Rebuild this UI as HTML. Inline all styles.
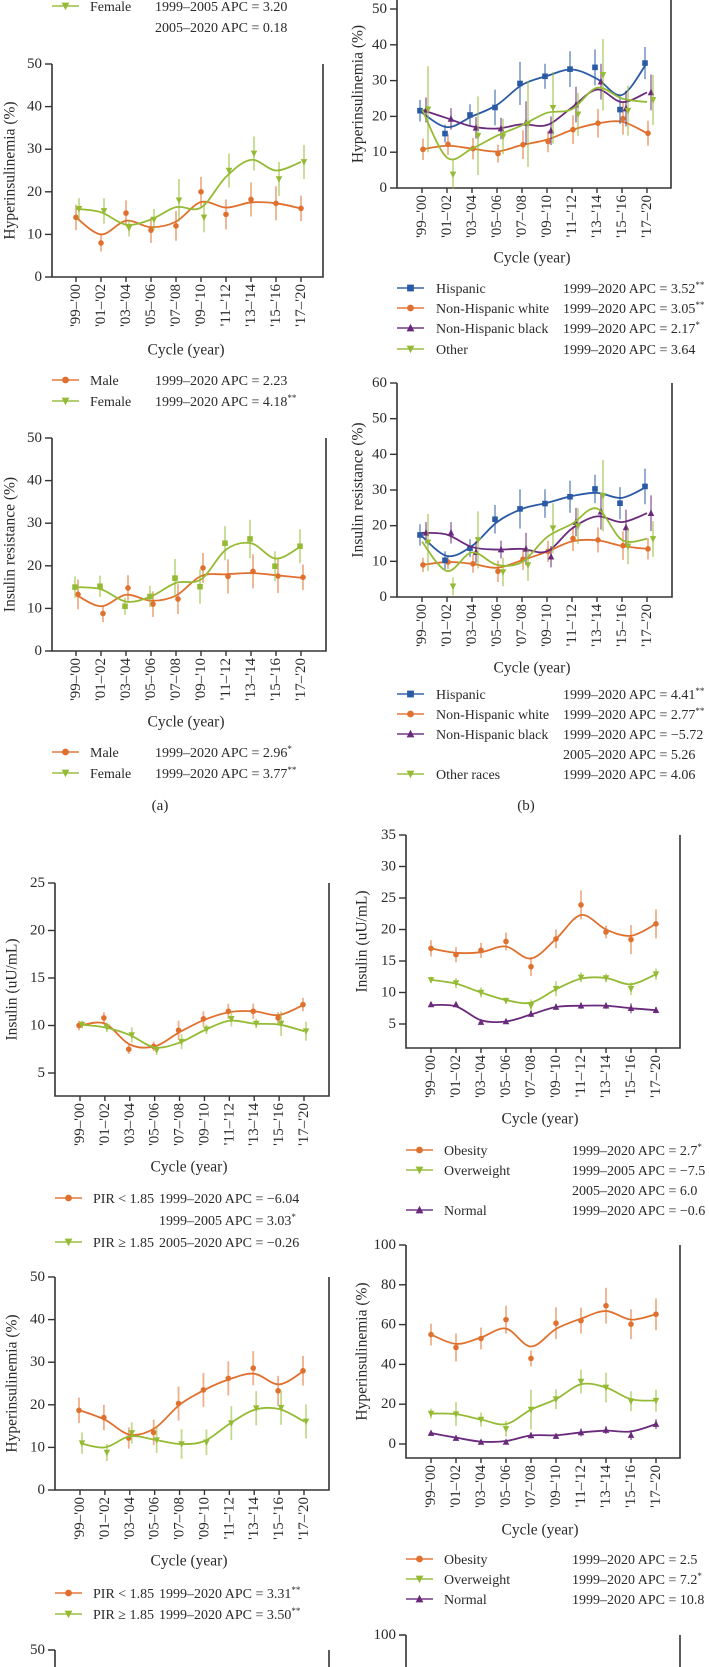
<!DOCTYPE html>
<html><head><meta charset="utf-8"><style>
html,body{margin:0;padding:0;background:#fff}
svg{display:block;font-family:"Liberation Serif",serif}
</style></head><body>
<svg id="fig" width="709" height="1667" viewBox="0 0 709 1667" xmlns="http://www.w3.org/2000/svg"></svg>
<script>
const cycles = ["'99–'00","'01–'02","'03–'04","'05–'06","'07–'08","'09–'10","'11–'12","'13–'14","'15–'16","'17–'20"];
const ticks0to50 = [0,10,20,30,40,50];
const ticks0to60 = [0,10,20,30,40,50,60];
const ticks5to25 = [5,10,15,20,25];
const ticks5to35 = [5,10,15,20,25,30,35];
const ticks0to100 = [0,20,40,60,80,100];

// A1 hyperinsulinemia by sex
const a1MaleVals = [14,8,15,11,12,20,14.7,18.2,17.3,16.1];
const a1MaleFit = [14,10,13.2,11.7,13,17.6,16.3,17.5,17.3,16.1];
const a1MaleErr = [3,2,3,3,3.5,3.5,3.5,4,4,3];
const a1FemaleVals = [16,15.5,11.5,13.5,18,14,25,29,23,27];
const a1FemaleFit = [16,15.2,12.3,13.5,16.4,16.3,23.5,27.5,25,27];
const a1FemaleErr = [2.5,3,2,2.5,5,3.5,4,4,4,4];
// A2 insulin resistance by sex
const a2MaleVals = [13.3,8.8,14.8,11,12.2,19.5,17.5,18.7,17.6,17.3];
const a2MaleFit = [13.2,10.5,13.2,11.8,13,17.6,18,18.3,17.8,17.2];
const a2MaleErr = [3.5,2,3,3,3.5,3.5,4,4,4,3];
const a2FemaleVals = [15,15.2,10.5,12.8,17.1,15.1,25.3,26.3,19.9,24.6];
const a2FemaleFit = [15,14.5,11.6,12.8,16,16.8,23.8,25.3,21.7,24.6];
const a2FemaleErr = [2.5,2.5,2,2.5,4.5,4,4,4.5,3.5,4];
// B1 hyperinsulinemia by race
const b1HispVals = [21.6,15.2,20.4,22.5,29.2,31.2,33.2,33.7,21.9,34.9];
const b1HispFit = [21,17,20,23.2,28.8,31.3,33.1,30.5,26,35];
const b1HispErr = [3,2.5,3,5,6,3.5,5,5,4,4.5];
const b1WhiteVals = [10.8,12.2,11,9.6,12.1,13,16.3,18.1,19.4,15.3];
const b1WhiteFit = [10.8,11.8,11,10.2,12,13.5,16.2,18,18.5,15.3];
const b1WhiteErr = [3,3,3,2.5,4,3,4,4,4.5,3.5];
const b1BlackVals = [21.8,19.3,16.8,16.6,18.2,16,23.3,29.7,22.2,26.7];
const b1BlackFit = [21.8,19.5,17.2,16.6,17.8,17.6,22.5,27.5,24,26.7];
const b1BlackErr = [3.5,3,3,3,6,4,5,5,5,5];
const b1OtherVals = [22,3.8,14.6,14.4,17.9,22.4,20.6,31.6,21.6,24.6];
const b1OtherFit = [22,8.5,11,14.6,17.5,21,22,28,25,24];
const b1OtherErr = [12,4,11,5,12,10,6,10,7,7];
// B2 insulin resistance by race
const b2HispVals = [17.4,10.3,13.7,21.8,24.7,26.2,28.1,30.3,26.3,31];
const b2HispFit = [17,11.5,14.3,21,24.7,26.4,28.3,29.2,27.8,31];
const b2HispErr = [3,2.5,2.5,4,5.5,4,4.5,4,4.5,5];
const b2WhiteVals = [9,9.8,9.3,7.2,10.6,12.8,16.4,16,14.4,13.5];
const b2WhiteFit = [9,9.8,9.3,8.2,10.3,12.7,15.6,15.9,14.3,13.5];
const b2WhiteErr = [2,2,2.5,3,3,3,3.5,3.5,4,3];
const b2BlackVals = [18,18,12.6,13.3,13.5,11.3,21,23.9,19.5,23.5];
const b2BlackFit = [18,17.5,14,13.3,13.5,12.8,19.2,22.6,21,23.5];
const b2BlackErr = [3,3,3,2.5,4.5,3,4,5,5,5];
const b2OtherVals = [15.3,3,16,7,9,19.3,19.9,28.4,14.2,16.3];
const b2OtherFit = [15.5,7.3,12.5,9,9.8,16.8,20.5,24.8,16,16.3];
const b2OtherErr = [8,2.5,8,4,4.5,7,5,10,5,5];
// C1 insulin by PIR
const c1LowVals = [10,10.8,7.5,7.8,9.5,10.7,11.5,11.5,10.8,12.2];
const c1LowFit = [10,10.2,8,7.8,9.3,10.6,11.4,11.5,11.1,12.2];
const c1LowErr = [0.5,0.6,0.5,0.5,1,0.8,0.8,0.8,0.6,0.7];
const c1HighVals = [10.1,9.8,9,7.4,8.3,9.6,10.7,10.2,10.2,9.4];
const c1HighFit = [10.1,9.8,9,7.7,8.2,9.5,10.5,10.2,10.1,9.4];
const c1HighErr = [0.4,0.5,0.8,0.5,0.8,0.5,0.8,0.5,1.3,1];
// C2 hyperinsulinemia by PIR
const c2LowVals = [18.7,17,12.2,13.5,20.3,23.5,26.2,28.6,23.3,28];
const c2LowFit = [18.7,16.5,13,14.5,20,23.5,26,27.3,24.8,28];
const c2LowErr = [3,3,2.5,3,4,4,4,4,3.5,3.5];
const c2HighVals = [11,8.8,13.4,11.7,10.8,11.2,15.7,19.2,19.3,16.1];
const c2HighFit = [11,10,12.6,11.8,10.8,11.5,15.5,18.8,19,16.1];
const c2HighErr = [2.5,2,2.5,3,3.5,3,4,4,4,4];
// D1 insulin by BMI
const d1ObVals = [17,16,16.7,18.1,14.1,18.5,23.9,19.6,18.4,20.9];
const d1ObFit = [17,16.3,16.4,17.3,15.4,18.5,22.3,20,19,20.9];
const d1ObErr = [1.3,1.2,1.2,1.4,1.5,1.5,2.3,1,2.3,2.3];
const d1OwVals = [12,11.5,10,8.7,7.9,10.6,12.4,12.3,10.6,12.9];
const d1OwFit = [12,11.4,10,8.8,8.4,10.5,12.2,12.3,11.3,12.9];
const d1OwErr = [0.5,0.8,0.8,0.5,1,1.2,0.8,0.7,1,0.9];
const d1NoVals = [8.1,8.1,5.3,5.4,6.6,7.7,7.9,7.9,7.5,7.2];
const d1NoFit = [8,7.8,5.6,5.4,6.5,7.7,7.9,7.9,7.5,7.2];
const d1NoErr = [0.4,0.4,0.4,0.4,0.5,0.5,0.5,0.5,0.8,0.5];
// D2 hyperinsulinemia by BMI
const d2ObVals = [55,48.5,53,62.5,43,60.7,62,69.5,60.2,65.2];
const d2ObFit = [55,50.3,53.5,58,49,57.8,63,66.8,62.5,65.2];
const d2ObErr = [5.5,7,5.5,7,4,8,6.5,9,7.5,8];
const d2OwVals = [15.3,15,12.3,7.6,17.3,22.5,31.4,28.4,21.5,21.8];
const d2OwFit = [15.3,15,12.3,10,17.3,22.5,30,28.4,22.5,21.8];
const d2OwErr = [2.5,6,3.5,4,10,5,6,7.5,5,5.5];
const d2NoVals = [5.5,3,1,1,4.3,4,5.8,7,4.5,10];
const d2NoFit = [5.5,3.2,1.2,1.5,4.3,4.4,5.8,6.7,6.3,10];
const d2NoErr = [1,1,0.8,1,1.5,1,2,2,2.5,2.5];

const NS = "http://www.w3.org/2000/svg";
const fig = document.getElementById("fig");
const OR = "#e0702e", GR = "#95bb35", BL = "#2a5aa5", PU = "#6a2a7c";
function mk(tag, attrs, parent) {
  const e = document.createElementNS(NS, tag);
  for (const k in attrs) e.setAttribute(k, attrs[k]);
  (parent || fig).appendChild(e);
  return e;
}
function marker(g, type, x, y, color, s) {
  s = s || 3.3;
  let e;
  if (type === "circle") e = mk("circle", {cx:x, cy:y, r:s, fill:color}, g);
  else if (type === "square") e = mk("rect", {x:x-s, y:y-s, width:2*s, height:2*s, fill:color}, g);
  else if (type === "up") e = mk("polygon", {points:`${x},${y-s-0.8} ${x-s-0.5},${y+s} ${x+s+0.5},${y+s}`, fill:color}, g);
  else e = mk("polygon", {points:`${x},${y+s+0.8} ${x-s-0.5},${y-s} ${x+s+0.5},${y-s}`, fill:color}, g);
  return e;
}
function smoothPath(pts) {
  let d = `M${pts[0][0]},${pts[0][1]}`;
  for (let i = 0; i < pts.length - 1; i++) {
    const p0 = pts[Math.max(0,i-1)], p1 = pts[i], p2 = pts[i+1], p3 = pts[Math.min(pts.length-1,i+2)];
    const c1x = p1[0] + (p2[0]-p0[0])/6, c1y = p1[1] + (p2[1]-p0[1])/6;
    const c2x = p2[0] - (p3[0]-p1[0])/6, c2y = p2[1] - (p3[1]-p1[1])/6;
    d += ` C${c1x},${c1y} ${c2x},${c2y} ${p2[0]},${p2[1]}`;
  }
  return d;
}
function text(parent, x, y, s, opts) {
  opts = opts || {};
  const t = mk("text", {x:x, y:y, "font-size":opts.size||14, fill:"#2a2a2a", "text-anchor":opts.anchor||"start"}, parent);
  if (opts.rot) t.setAttribute("transform", `rotate(-90 ${x} ${y})`);
  if (opts.base) t.setAttribute("dominant-baseline", opts.base);
  const parts = s.split(/(\*+)$/);
  t.appendChild(document.createTextNode(parts[0]));
  if (parts[1]) { const ts = mk("tspan", {dy:-5, "font-size":9}, t); ts.textContent = parts[1]; }
  return t;
}

function chart(c) {
  const g = mk("g", {});
  
  
  const yS = v => c.yp[0] + (v - c.yv[0]) * (c.yp[1] - c.yp[0]) / (c.yv[1] - c.yv[0]);
  const xS = i => c.c0 + i * (c.c1 - c.c0) / (cycles.length - 1);
  const ax = mk("path", {d:`M${c.ax},${c.top} V${c.base} H${c.rx} V${c.top}`, fill:"none", stroke:"#333", "stroke-width":1.6}, g);
  
  
  c.ticks.forEach(v => {
    const y = yS(v);
    mk("line", {x1:c.ax-7, x2:c.ax, y1:y, y2:y, stroke:"#333", "stroke-width":1.4}, g);
    const t = text(g, c.ax-10, y, String(v), {anchor:"end", base:"central", size:15});
    
    
  });
  cycles.forEach((lab, i) => {
    const x = xS(i);
    mk("line", {x1:x, x2:x, y1:c.base, y2:c.base+5, stroke:"#333", "stroke-width":1.4}, g);
    const t = text(g, x, c.base+7, lab, {anchor:"end", base:"central", size:15, rot:true});
    
    
  });
  const yt = text(g, c.tx, (c.top + c.base)/2, c.title, {anchor:"middle", base:"central", size:15.5, rot:true});
  
  
  const xt = text(g, c.cx, c.cy, "Cycle (year)", {anchor:"middle", base:"central", size:15.5});
  
  
  c.series.forEach(s => {
    const sg = mk("g", {}, g);
    
    
    s.vals.forEach((v, i) => {
      const x = xS(i) + s.dx;
      const eb = mk("line", {x1:x, x2:x, y1:yS(v - s.err[i]), y2:yS(v + s.err[i]), stroke:s.color, "stroke-width":1.8, opacity:0.55}, sg);
      
      
    });
    const line = mk("path", {d:smoothPath(s.fit.map((v,i)=>[xS(i), yS(v)])), fill:"none", stroke:s.color, "stroke-width":1.8}, sg);
    
    
    s.vals.forEach((v, i) => {
      const m = marker(sg, s.marker, xS(i) + s.dx, yS(v), s.color, 2.8);
      
      
    });
  });
}

function legend(rows, lx, labX, valX) {
  const g = mk("g", {});
  
  
  rows.forEach(r => {
    const y = r[0];
    if (r[1]) {
      mk("line", {x1:lx, x2:lx+27, y1:y, y2:y, stroke:r[4], "stroke-width":1.8, opacity:0.8}, g);
      marker(g, r[5], lx+13.5, y, r[4], 3.4);
      const l = text(g, labX, y+5, r[1], {size:14});
      
      
    }
    const v = text(g, valX, y+5, r[2], {size:14});
    
    
  });
}

// ---- Panel (a)
legend([[6,"Female","1999–2005 APC = 3.20",0,GR,"down"],[27,"","2005–2020 APC = 0.18"]],52,90,155);
chart({name:"a1-hyperinsulinemia-sex", ax:52, rx:323, c0:76, c1:301, yv:[0,50], yp:[277,64], base:277, top:64, ticks:ticks0to50, title:"Hyperinsulinemia (%)", tx:10, cx:186, cy:350,
  series:[{name:"male",vals:a1MaleVals,fit:a1MaleFit,err:a1MaleErr,color:OR,marker:"circle",dx:0},
          {name:"female",vals:a1FemaleVals,fit:a1FemaleFit,err:a1FemaleErr,color:GR,marker:"down",dx:3}]});
legend([[380,"Male","1999–2020 APC = 2.23",0,OR,"circle"],[401,"Female","1999–2020 APC = 4.18**",0,GR,"down"]],52,90,155);
chart({name:"a2-insulin-resistance-sex", ax:52, rx:326, c0:76, c1:301, yv:[0,50], yp:[651,438], base:651, top:438, ticks:ticks0to50, title:"Insulin resistance (%)", tx:10, cx:186, cy:722,
  series:[{name:"male",vals:a2MaleVals,fit:a2MaleFit,err:a2MaleErr,color:OR,marker:"circle",dx:2},
          {name:"female",vals:a2FemaleVals,fit:a2FemaleFit,err:a2FemaleErr,color:GR,marker:"square",dx:-1}]});
legend([[752,"Male","1999–2020 APC = 2.96*",0,OR,"circle"],[773,"Female","1999–2020 APC = 3.77**",0,GR,"down"]],52,90,155);
text(fig,160,810,"(a)",{anchor:"middle",size:15});

// ---- Panel (b)
chart({name:"b1-hyperinsulinemia-race", ax:397, rx:671, c0:422, c1:647, yv:[0,50], yp:[188,9], base:188, top:0, ticks:ticks0to50, title:"Hyperinsulinemia (%)", tx:358, cx:532, cy:258,
  series:[{name:"non-hispanic-white",vals:b1WhiteVals,fit:b1WhiteFit,err:b1WhiteErr,color:OR,marker:"circle",dx:1},
          {name:"hispanic",vals:b1HispVals,fit:b1HispFit,err:b1HispErr,color:BL,marker:"square",dx:-2},
          {name:"non-hispanic-black",vals:b1BlackVals,fit:b1BlackFit,err:b1BlackErr,color:PU,marker:"up",dx:4},
          {name:"other",vals:b1OtherVals,fit:b1OtherFit,err:b1OtherErr,color:GR,marker:"down",dx:6}]});
legend([[288,"Hispanic","1999–2020 APC = 3.52**",0,BL,"square"],[308,"Non-Hispanic white","1999–2020 APC = 3.05**",0,OR,"circle"],
        [328,"Non-Hispanic black","1999–2020 APC = 2.17*",0,PU,"up"],[349,"Other","1999–2020 APC = 3.64",0,GR,"down"]],397,436,563);
chart({name:"b2-insulin-resistance-race", ax:397, rx:672, c0:422, c1:647, yv:[0,60], yp:[597,383], base:597, top:383, ticks:ticks0to60, title:"Insulin resistance (%)", tx:358, cx:532, cy:668,
  series:[{name:"non-hispanic-white",vals:b2WhiteVals,fit:b2WhiteFit,err:b2WhiteErr,color:OR,marker:"circle",dx:1},
          {name:"hispanic",vals:b2HispVals,fit:b2HispFit,err:b2HispErr,color:BL,marker:"square",dx:-2},
          {name:"non-hispanic-black",vals:b2BlackVals,fit:b2BlackFit,err:b2BlackErr,color:PU,marker:"up",dx:4},
          {name:"other",vals:b2OtherVals,fit:b2OtherFit,err:b2OtherErr,color:GR,marker:"down",dx:6}]});
legend([[694,"Hispanic","1999–2020 APC = 4.41**",0,BL,"square"],[714,"Non-Hispanic white","1999–2020 APC = 2.77**",0,OR,"circle"],
        [734,"Non-Hispanic black","1999–2020 APC = −5.72",0,PU,"up"],[754,"","2005–2020 APC = 5.26"],
        [774,"Other races","1999–2020 APC = 4.06",0,GR,"down"]],397,436,563);
text(fig,526,810,"(b)",{anchor:"middle",size:15});

// ---- Panel (c)
chart({name:"c1-insulin-pir", ax:55, rx:329, c0:80, c1:304, yv:[5,25], yp:[1073,883], base:1096, top:883, ticks:ticks5to25, title:"Insulin (uU/mL)", tx:12, cx:189, cy:1167,
  series:[{name:"pir-low",vals:c1LowVals,fit:c1LowFit,err:c1LowErr,color:OR,marker:"circle",dx:-1},
          {name:"pir-high",vals:c1HighVals,fit:c1HighFit,err:c1HighErr,color:GR,marker:"down",dx:2}]});
legend([[1198,"PIR < 1.85","1999–2020 APC = −6.04",0,OR,"circle"],[1220,"","1999–2005 APC = 3.03*"],[1242,"PIR ≥ 1.85","2005–2020 APC = −0.26",0,GR,"down"]],55,93,159);
chart({name:"c2-hyperinsulinemia-pir", ax:55, rx:329, c0:80, c1:304, yv:[0,50], yp:[1490,1277], base:1490, top:1277, ticks:ticks0to50, title:"Hyperinsulinemia (%)", tx:12, cx:189, cy:1561,
  series:[{name:"pir-low",vals:c2LowVals,fit:c2LowFit,err:c2LowErr,color:OR,marker:"circle",dx:-1},
          {name:"pir-high",vals:c2HighVals,fit:c2HighFit,err:c2HighErr,color:GR,marker:"down",dx:2}]});
legend([[1593,"PIR < 1.85","1999–2020 APC = 3.31**",0,OR,"circle"],[1614,"PIR ≥ 1.85","1999–2020 APC = 3.50**",0,GR,"down"]],55,93,159);

// ---- Panel (d)
chart({name:"d1-insulin-bmi", ax:406, rx:680, c0:431, c1:656, yv:[5,35], yp:[1024,835], base:1048, top:835, ticks:ticks5to35, title:"Insulin (uU/mL)", tx:362, cx:540, cy:1119,
  series:[{name:"obesity",vals:d1ObVals,fit:d1ObFit,err:d1ObErr,color:OR,marker:"circle",dx:0},
          {name:"overweight",vals:d1OwVals,fit:d1OwFit,err:d1OwErr,color:GR,marker:"down",dx:0},
          {name:"normal",vals:d1NoVals,fit:d1NoFit,err:d1NoErr,color:PU,marker:"up",dx:0}]});
legend([[1150,"Obesity","1999–2020 APC = 2.7*",0,OR,"circle"],[1170,"Overweight","1999–2005 APC = −7.5",0,GR,"down"],
        [1190,"","2005–2020 APC = 6.0"],[1210,"Normal","1999–2020 APC = −0.6",0,PU,"up"]],406,444,572);
chart({name:"d2-hyperinsulinemia-bmi", ax:406, rx:680, c0:431, c1:656, yv:[0,100], yp:[1444,1245], base:1458, top:1245, ticks:ticks0to100, title:"Hyperinsulinemia (%)", tx:362, cx:540, cy:1530,
  series:[{name:"obesity",vals:d2ObVals,fit:d2ObFit,err:d2ObErr,color:OR,marker:"circle",dx:0},
          {name:"overweight",vals:d2OwVals,fit:d2OwFit,err:d2OwErr,color:GR,marker:"down",dx:0},
          {name:"normal",vals:d2NoVals,fit:d2NoFit,err:d2NoErr,color:PU,marker:"up",dx:0}]});
legend([[1559,"Obesity","1999–2020 APC = 2.5",0,OR,"circle"],[1579,"Overweight","1999–2020 APC = 7.2*",0,GR,"down"],[1599,"Normal","1999–2020 APC = 10.8",0,PU,"up"]],406,444,572);

// ---- cut-off charts at bottom
const cutL = mk("path", {d:"M55,1650 V1667 M329,1650 V1667 M48,1650 H55", fill:"none", stroke:"#333", "stroke-width":1.6});


text(fig,45,1650,"50",{anchor:"end",base:"central",size:15});
const cutR = mk("path", {d:"M406,1635 V1667 M680,1635 V1667 M399,1635 H406", fill:"none", stroke:"#333", "stroke-width":1.6});


text(fig,396,1635,"100",{anchor:"end",base:"central",size:15});
</script>
</body></html>
